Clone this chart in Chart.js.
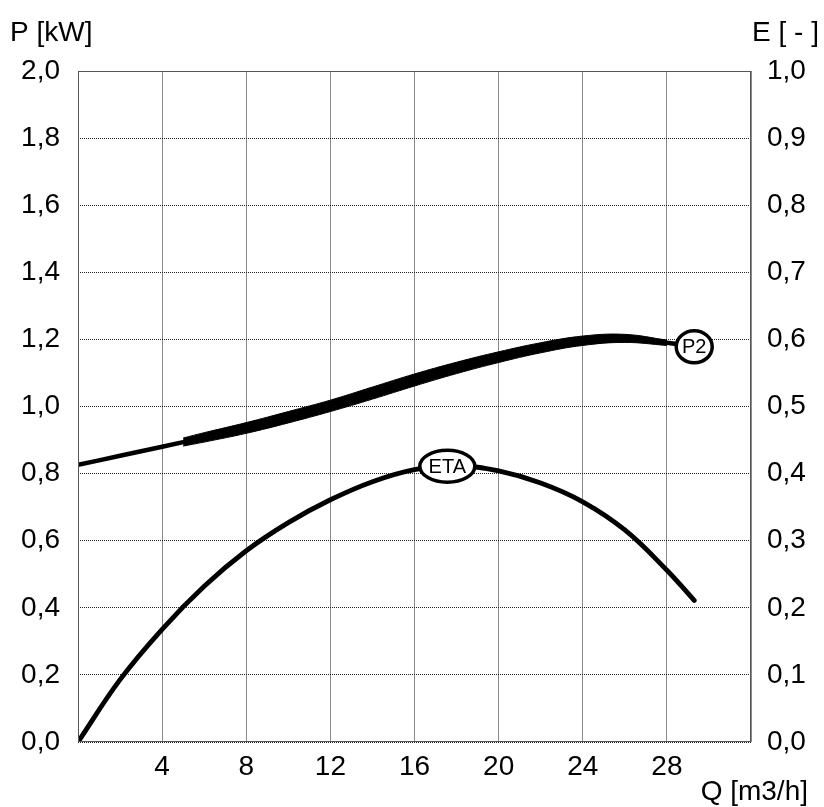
<!DOCTYPE html>
<html><head><meta charset="utf-8">
<script src="https://cdn.jsdelivr.net/npm/chart.js@4"></script>
<style>html,body{margin:0;padding:0;background:#fff}#wrap{width:824px;height:807px}</style>
</head><body><div id="wrap"><canvas id="c" width="824" height="807"></canvas></div>
<script>
// ---- data ----
const xTickValues = [0, 4, 8, 12, 16, 20, 24, 28, 32];
const xTickLabels = ['', '4', '8', '12', '16', '20', '24', '28', ''];
const leftTickLabels = ['0,0','0,2','0,4','0,6','0,8','1,0','1,2','1,4','1,6','1,8','2,0'];
const rightTickLabels = ['0,0','0,1','0,2','0,3','0,4','0,5','0,6','0,7','0,8','0,9','1,0'];

const qP2 = [0, 2, 4, 6, 8, 10, 12, 14, 16, 18, 20, 22, 24, 26, 28, 29.3];
const p2  = [0.826, 0.853, 0.880, 0.908, 0.936, 0.968, 1.002, 1.040, 1.079, 1.115, 1.147, 1.175, 1.196, 1.203, 1.190, 1.180];

const qBand = [5, 6, 8, 10, 12, 14, 16, 18, 20, 22, 24, 26, 28];
const p2BandCenter = [0.894, 0.908, 0.936, 0.968, 1.002, 1.040, 1.079, 1.115, 1.147, 1.175, 1.196, 1.203, 1.190];
const p2BandHalf   = [0.012, 0.014, 0.016, 0.017, 0.017, 0.018, 0.018, 0.017, 0.016, 0.015, 0.014, 0.012, 0.008];

const qEta = [0, 2, 4, 6, 8, 10, 12, 14, 16, 18, 20, 22, 24, 26, 28, 29.3];
const eta  = [0, 0.093, 0.168, 0.232, 0.285, 0.327, 0.361, 0.388, 0.406, 0.412, 0.404, 0.386, 0.358, 0.316, 0.256, 0.211];

const curveLabels = [
  {text: 'ETA', q: 17.56, v: 0.411, axis: 'y2', rx: 27.5, ry: 16},
  {text: 'P2',  q: 29.3,  v: 1.178, axis: 'y',  rx: 18,   ry: 16}
];

// ---- chart ----
const FONT = "'Liberation Sans', Arial, Helvetica, sans-serif";
const pts = (xs, ys) => xs.map((x, i) => ({x: x, y: ys[i]}));

const overlay = {
  id: 'overlay',
  afterDatasetsDraw(chart) {
    const ctx = chart.ctx, a = chart.chartArea;
    ctx.save();
    ctx.strokeStyle = '#555';
    ctx.lineWidth = 1;
    ctx.strokeRect(Math.round(a.left) + 0.5, Math.round(a.top) + 0.5,
                   Math.round(a.right - a.left) - 1, Math.round(a.bottom - a.top) - 1);
    curveLabels.forEach(l => {
      const x = chart.scales.x.getPixelForValue(l.q);
      const y = chart.scales[l.axis].getPixelForValue(l.v);
      ctx.beginPath();
      ctx.ellipse(x, y, l.rx, l.ry, 0, 0, Math.PI * 2);
      ctx.fillStyle = '#fff';
      ctx.fill();
      ctx.lineWidth = 3.5;
      ctx.strokeStyle = '#000';
      ctx.stroke();
      ctx.fillStyle = '#000';
      ctx.font = '20px ' + FONT;
      ctx.textAlign = 'center';
      ctx.textBaseline = 'middle';
      ctx.fillText(l.text, x, y + 1);
    });
    ctx.fillStyle = '#000';
    ctx.font = '28px ' + FONT;
    ctx.textBaseline = 'alphabetic';
    ctx.textAlign = 'left';
    ctx.fillText('P [kW]', 10, 41);
    ctx.textAlign = 'right';
    ctx.fillText('E [ - ]', 819, 41);
    ctx.fillText('Q [m3/h]', 808, 800);
    ctx.restore();
  }
};

new Chart(document.getElementById('c'), {
  type: 'line',
  data: {
    datasets: [
      {data: pts(qP2, p2), yAxisID: 'y', borderColor: '#000', borderWidth: 4.5,
       pointRadius: 0, tension: 0.4, fill: false, borderCapStyle: 'round'},
      {data: pts(qBand, p2BandCenter.map((c, i) => c + p2BandHalf[i])), yAxisID: 'y', borderColor: '#000',
       borderWidth: 1, pointRadius: 0, tension: 0.4, fill: false},
      {data: pts(qBand, p2BandCenter.map((c, i) => c - p2BandHalf[i])), yAxisID: 'y', borderColor: '#000',
       backgroundColor: '#000', borderWidth: 1, pointRadius: 0, tension: 0.4, fill: '-1'},
      {data: pts(qEta, eta), yAxisID: 'y2', borderColor: '#000', borderWidth: 4.8,
       pointRadius: 0, tension: 0.4, fill: false, borderCapStyle: 'round'}
    ]
  },
  options: {
    responsive: false,
    animation: false,
    devicePixelRatio: 1,
    layout: {padding: {top: 71, left: 0, right: 0, bottom: 0}},
    plugins: {legend: {display: false}, tooltip: {enabled: false}},
    scales: {
      x: {
        type: 'linear', min: 0, max: 32,
        afterBuildTicks(s) { s.ticks = xTickValues.map(v => ({value: v})); },
        afterFit(s) { s.height = 65; },
        ticks: {
          callback: (v) => xTickLabels[xTickValues.indexOf(v)] ?? '',
          font: {family: FONT, size: 28}, color: '#000', padding: 8,
          maxRotation: 0, autoSkip: false
        },
        grid: {color: '#8a8a8a', lineWidth: 1, drawTicks: false},
        border: {display: false}
      },
      y: {
        position: 'left', min: 0, max: 2,
        afterBuildTicks(s) { s.ticks = leftTickLabels.map((t, i) => ({value: i * 0.2})); },
        afterFit(s) { s.width = 78; },
        ticks: {
          callback: (v, i) => leftTickLabels[i],
          font: {family: FONT, size: 28}, color: '#000', padding: 18, autoSkip: false
        },
        grid: {color: '#222', lineWidth: 1, drawTicks: false},
        border: {display: false, dash: [1, 1]}
      },
      y2: {
        position: 'right', min: 0, max: 1,
        afterBuildTicks(s) { s.ticks = rightTickLabels.map((t, i) => ({value: i * 0.1})); },
        afterFit(s) { s.width = 73; },
        ticks: {
          callback: (v, i) => rightTickLabels[i],
          font: {family: FONT, size: 28}, color: '#000', padding: 16, autoSkip: false
        },
        grid: {display: false, drawTicks: false},
        border: {display: false}
      }
    }
  },
  plugins: [overlay]
});
</script>
</body></html>
